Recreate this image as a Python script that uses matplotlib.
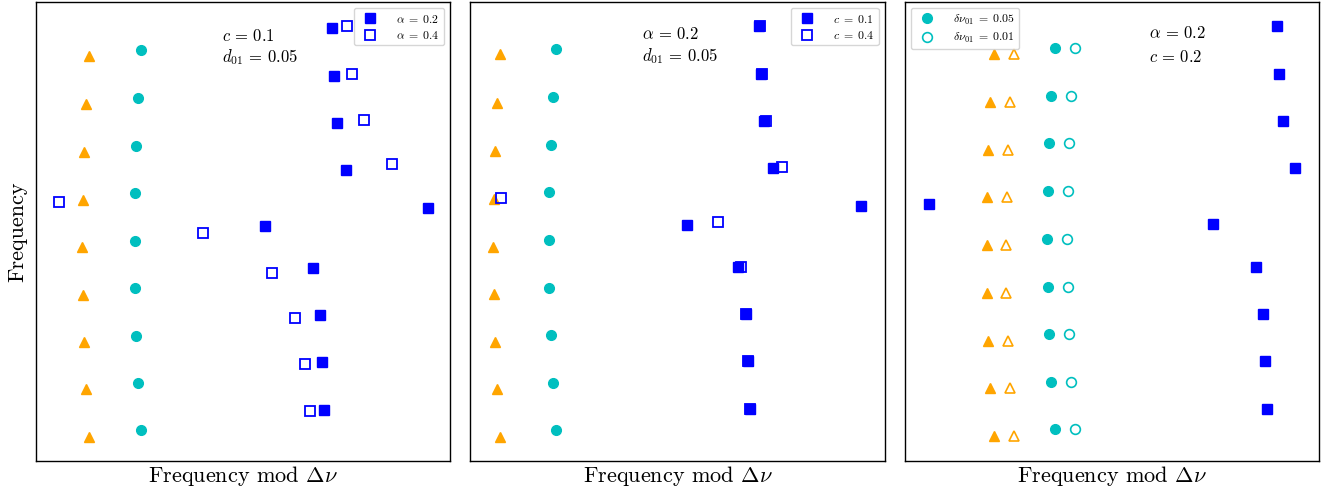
import matplotlib
matplotlib.use("Agg")
import matplotlib.pyplot as plt

plt.rcParams['font.family'] = ['cmr10', 'DejaVu Serif']
plt.rcParams['mathtext.fontset'] = 'cm'
plt.rcParams['axes.unicode_minus'] = False

# ---------------- data (frequency mod dnu, frequency), arbitrary units ----------------
# Panel 1 : c = 0.1, d01 = 0.05
p1_tri_x = [53, 50, 48, 46.7, 46.3, 46.7, 48, 50, 53]
p1_tri_y = [405, 357, 309, 261, 214, 166, 119, 72, 24]
p1_circ_x = [105.3, 102.3, 100.3, 99.3, 99, 99.3, 100.3, 102.3, 105.3]
p1_circ_y = [411, 363, 315.3, 267.7, 220.3, 172.7, 125.3, 78, 30.7]
p1_a02_x = [295.7, 297.3, 300.3, 309.3, 391.7, 228.7, 276.3, 283.3, 286, 287.3]
p1_a02_y = [432.7, 385.3, 338, 291.3, 253.3, 234.7, 192.7, 146, 98.7, 51.3]
p1_a04_x = [310.3, 316, 327.3, 355.3, 23, 167, 236.3, 259, 268.7, 273.3]
p1_a04_y = [434.7, 387.3, 341, 296.7, 259, 228, 188.3, 143.3, 96.7, 50]

# Panel 2 : alpha = 0.2, d01 = 0.05
p2_tri_x = [30, 26.7, 24.7, 23.3, 23, 23.3, 24.7, 26.7, 30]
p2_tri_y = [406.7, 358.3, 310.3, 262, 214.3, 167, 119.3, 71.7, 24.3]
p2_circ_x = [86, 82.3, 80.3, 79, 78.7, 79, 80.3, 82.3, 86]
p2_circ_y = [412.3, 364.3, 316.3, 268.7, 220.7, 173, 125.7, 78, 30.7]
p2_c01_x = [288, 290, 293, 302, 390, 216, 267, 275, 277, 279]
p2_c01_y = [435, 387, 340, 293, 255, 236, 194, 147, 100, 52]
p2_c04_x = [289, 291, 295, 311, 31, 247, 270, 275.5, 277.5, 279.5]
p2_c04_y = [435, 387, 340, 294, 263.3, 239, 194, 147, 100, 52]

# Panel 3 : alpha = 0.2, c = 0.2
p3_tri_x = [89, 85, 83, 82, 82, 82, 83, 85, 89]
p3_tri_y = [407, 359, 311, 264, 216, 168, 120, 73, 25]
p3_tri2_x = [109, 105, 103, 102, 101, 101, 103, 105, 109]
p3_circ_x = [150, 146, 144, 143, 142, 143, 144, 146, 150]
p3_circ_y = [413, 365, 318, 270, 222, 174, 127, 79, 32]
p3_circ2_x = [170, 166, 164, 163, 162, 163, 164, 166, 170]
p3_sq_x = [372, 374, 378, 390, 24, 308, 351, 358, 360, 362]
p3_sq_y = [435, 387, 340, 293, 257, 237, 194, 147, 100, 52]

XLIM = (0, 414)
YLIM = (0, 459)

ORANGE = 'orange'
CYAN = '#00bfbf'
BLUE = '#0000ff'

fig, axes = plt.subplots(1, 3, figsize=(13.31, 4.93), dpi=100)
fig.subplots_adjust(left=36/1331, right=1319/1331, top=1-2/493, bottom=1-461/493, wspace=0.0483)

ms_sq = 6.5
ms_tri = 7
ms_c = 7
FS_TXT = 12
FS_LEG = 8.5
LEG_KW = dict(fontsize=FS_LEG, borderaxespad=0.5, labelspacing=0.35,
              handletextpad=1.2, borderpad=0.4)

# panel 1
ax = axes[0]
ax.plot(p1_tri_x, p1_tri_y, '^', color=ORANGE, ms=ms_tri, ls='none')
ax.plot(p1_circ_x, p1_circ_y, 'o', color=CYAN, ms=ms_c, ls='none')
ax.plot(p1_a02_x, p1_a02_y, 's', color=BLUE, ms=ms_sq, ls='none', label=r'$\alpha\;=\;0.2$')
ax.plot(p1_a04_x, p1_a04_y, 's', mfc='none', mec=BLUE, mew=1.3, ms=ms_sq, ls='none', label=r'$\alpha\;=\;0.4$')
ax.text(186, 425, r'$c\,=\,0.1$', fontsize=FS_TXT, va='center')
ax.text(186, 404, r'$d_{01}\,=\,0.05$', fontsize=FS_TXT, va='center')
ax.legend(loc='upper right', **LEG_KW)

# panel 2
ax = axes[1]
ax.plot(p2_tri_x, p2_tri_y, '^', color=ORANGE, ms=ms_tri, ls='none')
ax.plot(p2_circ_x, p2_circ_y, 'o', color=CYAN, ms=ms_c, ls='none')
ax.plot(p2_c01_x, p2_c01_y, 's', color=BLUE, ms=ms_sq, ls='none', label=r'$c\;=\;0.1$')
ax.plot(p2_c04_x, p2_c04_y, 's', mfc='none', mec=BLUE, mew=1.3, ms=ms_sq, ls='none', label=r'$c\;=\;0.4$')
ax.text(172, 427, r'$\alpha\,=\,0.2$', fontsize=FS_TXT, va='center')
ax.text(172, 405, r'$d_{01}\,=\,0.05$', fontsize=FS_TXT, va='center')
ax.legend(loc='upper right', **LEG_KW)

# panel 3
ax = axes[2]
ax.plot(p3_tri_x, p3_tri_y, '^', color=ORANGE, ms=ms_tri, ls='none')
ax.plot(p3_tri2_x, p3_tri_y, '^', mfc='none', mec=ORANGE, mew=1.2, ms=ms_tri, ls='none')
ax.plot(p3_circ_x, p3_circ_y, 'o', color=CYAN, ms=ms_c, ls='none', label=r'$\delta\nu_{01}\;=\;0.05$')
ax.plot(p3_circ2_x, p3_circ_y, 'o', mfc='none', mec=CYAN, mew=1.2, ms=ms_c, ls='none', label=r'$\delta\nu_{01}\;=\;0.01$')
ax.plot(p3_sq_x, p3_sq_y, 's', color=BLUE, ms=ms_sq, ls='none')
ax.text(244, 428, r'$\alpha\,=\,0.2$', fontsize=FS_TXT, va='center')
ax.text(244, 404, r'$c\,=\,0.2$', fontsize=FS_TXT, va='center')
ax.legend(loc='upper left', **LEG_KW)

for i, ax in enumerate(axes):
    ax.set_xlim(*XLIM)
    ax.set_ylim(*YLIM)
    ax.set_xticks([])
    ax.set_yticks([])
    ax.set_xlabel(r'Frequency mod $\Delta\nu$', fontsize=16, labelpad=2)
    for s in ax.spines.values():
        s.set_linewidth(1.0)
axes[0].set_ylabel('Frequency', fontsize=16, labelpad=6)

fig.savefig('out.png', dpi=100)
